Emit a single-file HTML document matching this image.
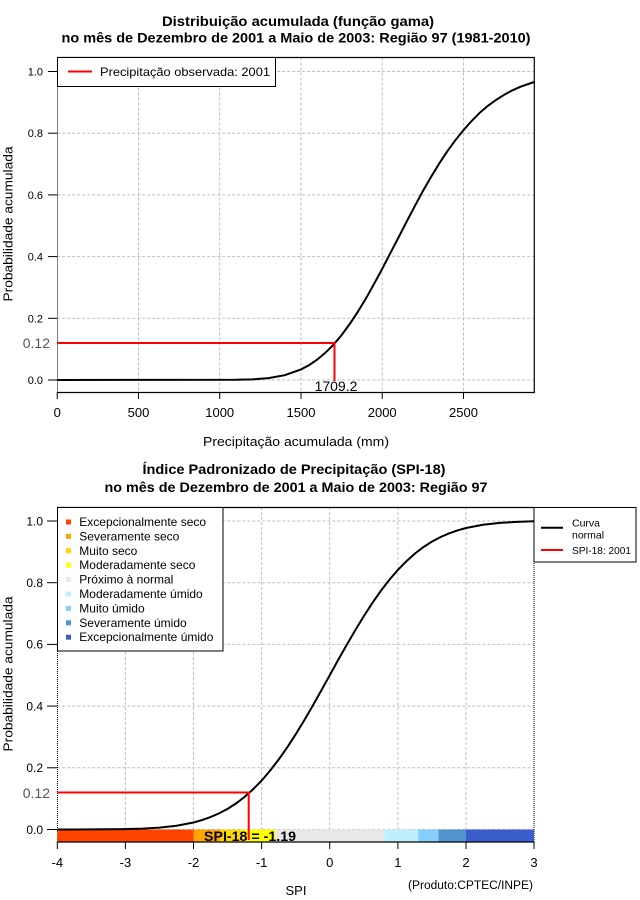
<!DOCTYPE html>
<html><head><meta charset="utf-8"><style>html,body{margin:0;padding:0;background:#fff;}svg{display:block}</style></head>
<body>
<svg width="640" height="900" viewBox="0 0 640 900" xmlns="http://www.w3.org/2000/svg" font-family="Liberation Sans, Arial, sans-serif">
<rect width="640" height="900" fill="#fff"/>

<!-- ===== TOP CHART ===== -->
<text x="298" y="26" font-size="14" font-weight="bold" text-anchor="middle" textLength="272" lengthAdjust="spacingAndGlyphs">Distribuição acumulada (função gama)</text>
<text x="296" y="42.5" font-size="14" font-weight="bold" text-anchor="middle" textLength="469" lengthAdjust="spacingAndGlyphs">no mês de Dezembro de 2001 a Maio de 2003: Região 97 (1981-2010)</text>

<!-- grid -->
<g stroke="#bebebe" stroke-width="1" stroke-dasharray="3 2" fill="none">
<line x1="138.5" y1="57.5" x2="138.5" y2="392.5"/>
<line x1="219.7" y1="57.5" x2="219.7" y2="392.5"/>
<line x1="301" y1="57.5" x2="301" y2="392.5"/>
<line x1="382.2" y1="57.5" x2="382.2" y2="392.5"/>
<line x1="463.5" y1="57.5" x2="463.5" y2="392.5"/>
<line x1="57.2" y1="380" x2="534.3" y2="380"/>
<line x1="57.2" y1="318.3" x2="534.3" y2="318.3"/>
<line x1="57.2" y1="256.6" x2="534.3" y2="256.6"/>
<line x1="57.2" y1="194.9" x2="534.3" y2="194.9"/>
<line x1="57.2" y1="133.2" x2="534.3" y2="133.2"/>
<line x1="57.2" y1="71.5" x2="534.3" y2="71.5"/>
</g>
<line x1="57.5" y1="57.5" x2="57.5" y2="392.5" stroke="#000" stroke-width="1" stroke-dasharray="1 1"/>
<!-- frame -->
<polyline points="57.2,57.5 534.3,57.5 534.3,392.5 57.2,392.5" fill="none" stroke="#000" stroke-width="1.2"/>

<!-- curve -->
<path d="M57.2,380 L236,379.8 L252.2,379.4 L268.5,378.1 L284.7,375.2 L301,369.4 L309.1,365.1 L317.2,359.6 L325.3,352.8 L333.5,344.7 L341.6,335.1 L349.7,324 L357.8,311.8 L366,298.4 L374.1,283.8 L382.2,268.9 L390.3,253.2 L398.5,237.5 L406.6,221.7 L414.7,206.3 L422.8,191.2 L431,177 L439.1,163.7 L447.2,151.4 L455.3,140.3 L463.5,130.1 L471.6,121 L479.7,112.8 L487.8,105.9 L496,100 L504.1,94.8 L512.2,90.4 L520.3,86.8 L534.1,82" fill="none" stroke="#000" stroke-width="2"/>

<!-- red lines -->
<line x1="57.2" y1="343" x2="334.5" y2="343" stroke="#ff0000" stroke-width="2"/>
<line x1="334.5" y1="342" x2="334.5" y2="381" stroke="#ff0000" stroke-width="2"/>
<text x="336" y="391" font-size="14" text-anchor="middle" fill="#000">1709.2</text>

<!-- y axis -->
<g stroke="#000" stroke-width="1">
<line x1="48" y1="380" x2="57" y2="380"/>
<line x1="48" y1="318.3" x2="57" y2="318.3"/>
<line x1="48" y1="256.6" x2="57" y2="256.6"/>
<line x1="48" y1="194.9" x2="57" y2="194.9"/>
<line x1="48" y1="133.2" x2="57" y2="133.2"/>
<line x1="48" y1="71.5" x2="57" y2="71.5"/>
</g>
<g font-size="11" text-anchor="end" fill="#000">
<text x="43" y="384">0.0</text>
<text x="43" y="322.3">0.2</text>
<text x="43" y="260.6">0.4</text>
<text x="43" y="198.9">0.6</text>
<text x="43" y="137.2">0.8</text>
<text x="43" y="75.5">1.0</text>
</g>
<text x="50" y="348" font-size="14" text-anchor="end" fill="#555">0.12</text>
<text transform="translate(12.5,224) rotate(-90)" font-size="13" text-anchor="middle" textLength="155" lengthAdjust="spacingAndGlyphs">Probabilidade acumulada</text>

<!-- x axis -->
<g stroke="#000" stroke-width="1">
<line x1="57.2" y1="392.5" x2="57.2" y2="399"/>
<line x1="138.5" y1="392.5" x2="138.5" y2="399"/>
<line x1="219.7" y1="392.5" x2="219.7" y2="399"/>
<line x1="301" y1="392.5" x2="301" y2="399"/>
<line x1="382.2" y1="392.5" x2="382.2" y2="399"/>
<line x1="463.5" y1="392.5" x2="463.5" y2="399"/>
</g>
<g font-size="13" text-anchor="middle" fill="#000">
<text x="57.2" y="417">0</text>
<text x="138.5" y="417">500</text>
<text x="219.7" y="417">1000</text>
<text x="301" y="417">1500</text>
<text x="382.2" y="417">2000</text>
<text x="463.5" y="417">2500</text>
</g>
<text x="296" y="446" font-size="13" text-anchor="middle" textLength="186" lengthAdjust="spacingAndGlyphs">Precipitação acumulada (mm)</text>

<!-- legend -->
<rect x="57.5" y="57.5" width="218" height="29" fill="#fff" stroke="#000" stroke-width="1"/>
<line x1="68" y1="71.5" x2="92" y2="71.5" stroke="#ff0000" stroke-width="2"/>
<text x="100" y="76" font-size="12" textLength="170" lengthAdjust="spacingAndGlyphs">Precipitação observada: 2001</text>

<!-- ===== BOTTOM CHART ===== -->
<text x="294" y="474" font-size="14" font-weight="bold" text-anchor="middle" textLength="303" lengthAdjust="spacingAndGlyphs">Índice Padronizado de Precipitação (SPI-18)</text>
<text x="296" y="492" font-size="14" font-weight="bold" text-anchor="middle" textLength="383" lengthAdjust="spacingAndGlyphs">no mês de Dezembro de 2001 a Maio de 2003: Região 97</text>

<g stroke="#bebebe" stroke-width="1" stroke-dasharray="3 2" fill="none">
<line x1="125.4" y1="507" x2="125.4" y2="830"/>
<line x1="193.5" y1="507" x2="193.5" y2="830"/>
<line x1="261.6" y1="507" x2="261.6" y2="830"/>
<line x1="329.7" y1="507" x2="329.7" y2="830"/>
<line x1="397.9" y1="507" x2="397.9" y2="830"/>
<line x1="466" y1="507" x2="466" y2="830"/>
<line x1="57.3" y1="829.5" x2="534" y2="829.5"/>
<line x1="57.3" y1="767.8" x2="534" y2="767.8"/>
<line x1="57.3" y1="706.1" x2="534" y2="706.1"/>
<line x1="57.3" y1="644.4" x2="534" y2="644.4"/>
<line x1="57.3" y1="582.7" x2="534" y2="582.7"/>
<line x1="57.3" y1="521" x2="534" y2="521"/>
</g>
<line x1="57.5" y1="507" x2="57.5" y2="842" stroke="#000" stroke-width="1" stroke-dasharray="1 1"/>
<line x1="534" y1="507" x2="534" y2="842" stroke="#000" stroke-width="1" stroke-dasharray="1 1"/>
<line x1="57.3" y1="507.5" x2="534" y2="507.5" stroke="#000" stroke-width="1.2"/>

<!-- color bar -->
<rect x="57.3" y="829.5" width="136.2" height="12.5" fill="#ff4500"/>
<rect x="193.5" y="829.5" width="27.2" height="12.5" fill="#ffa500"/>
<rect x="220.7" y="829.5" width="20.5" height="12.5" fill="#ffd700"/>
<rect x="241.2" y="829.5" width="34" height="12.5" fill="#ffff00"/>
<rect x="275.2" y="829.5" width="109" height="12.5" fill="#e8e8e8"/>
<rect x="384.2" y="829.5" width="34" height="12.5" fill="#bfefff"/>
<rect x="418.2" y="829.5" width="20.4" height="12.5" fill="#87cefa"/>
<rect x="438.6" y="829.5" width="27.4" height="12.5" fill="#4f94cd"/>
<rect x="466" y="829.5" width="68" height="12.5" fill="#3a5fcd"/>

<!-- curve -->
<path d="M57.3,829.5 L74.3,829.5 L91.4,829.4 L108.4,829.3 L125.4,829.1 L142.5,828.6 L159.5,827.6 L176.5,825.7 L193.5,822.5 L202,820.1 L210.5,817.1 L219,813.4 L227.6,808.9 L236.1,803.4 L244.6,796.9 L253.1,789.3 L261.6,780.6 L270.1,770.6 L278.6,759.6 L287.2,747.4 L295.7,734.3 L304.2,720.4 L312.7,705.7 L321.2,690.6 L329.7,675.3 L338.2,659.9 L346.8,644.8 L355.3,630.1 L363.8,616.2 L372.3,603.1 L380.8,590.9 L389.3,579.9 L397.9,569.9 L406.4,561.2 L414.9,553.6 L423.4,547.1 L431.9,541.6 L440.4,537.1 L448.9,533.4 L457.4,530.4 L466,528 L483,524.8 L500,522.9 L517,521.9 L534,521.3" fill="none" stroke="#000" stroke-width="2"/>

<!-- red lines -->
<line x1="57.3" y1="792.5" x2="248.7" y2="792.5" stroke="#ff0000" stroke-width="2"/>
<line x1="248.7" y1="791.5" x2="248.7" y2="840" stroke="#ff0000" stroke-width="2"/>
<text x="250" y="841" font-size="14" font-weight="bold" text-anchor="middle" textLength="92" lengthAdjust="spacingAndGlyphs">SPI-18 = -1.19</text>

<!-- x axis -->
<line x1="57.3" y1="842" x2="534" y2="842" stroke="#000" stroke-width="1.2"/>
<g stroke="#000" stroke-width="1">
<line x1="57.3" y1="842" x2="57.3" y2="849"/>
<line x1="125.4" y1="842" x2="125.4" y2="849"/>
<line x1="193.5" y1="842" x2="193.5" y2="849"/>
<line x1="261.6" y1="842" x2="261.6" y2="849"/>
<line x1="329.7" y1="842" x2="329.7" y2="849"/>
<line x1="397.9" y1="842" x2="397.9" y2="849"/>
<line x1="466" y1="842" x2="466" y2="849"/>
<line x1="534" y1="842" x2="534" y2="849"/>
</g>
<g font-size="13" text-anchor="middle" fill="#000">
<text x="57.3" y="867">-4</text>
<text x="125.4" y="867">-3</text>
<text x="193.5" y="867">-2</text>
<text x="261.6" y="867">-1</text>
<text x="329.7" y="867">0</text>
<text x="397.9" y="867">1</text>
<text x="466" y="867">2</text>
<text x="534" y="867">3</text>
</g>
<text x="296" y="895" font-size="13" text-anchor="middle">SPI</text>
<text x="533" y="889" font-size="11.5" text-anchor="end" textLength="125" lengthAdjust="spacingAndGlyphs">(Produto:CPTEC/INPE)</text>

<!-- y axis -->
<g stroke="#000" stroke-width="1">
<line x1="47" y1="829.5" x2="57" y2="829.5"/>
<line x1="47" y1="767.8" x2="57" y2="767.8"/>
<line x1="47" y1="706.1" x2="57" y2="706.1"/>
<line x1="47" y1="644.4" x2="57" y2="644.4"/>
<line x1="47" y1="582.7" x2="57" y2="582.7"/>
<line x1="47" y1="521" x2="57" y2="521"/>
</g>
<g font-size="12" text-anchor="end" fill="#000">
<text x="43" y="833.8">0.0</text>
<text x="43" y="772.1">0.2</text>
<text x="43" y="710.4">0.4</text>
<text x="43" y="648.7">0.6</text>
<text x="43" y="587">0.8</text>
<text x="43" y="525.3">1.0</text>
</g>
<text x="50" y="798" font-size="14" text-anchor="end" fill="#555">0.12</text>
<text transform="translate(12.5,674) rotate(-90)" font-size="13" text-anchor="middle" textLength="155" lengthAdjust="spacingAndGlyphs">Probabilidade acumulada</text>

<!-- left legend -->
<rect x="57.5" y="507.5" width="165.5" height="143.5" fill="#fff" stroke="#000" stroke-width="1"/>
<rect x="66" y="519.5" width="5" height="5" fill="#ff4500"/>
<rect x="66" y="533.9" width="5" height="5" fill="#ffa500"/>
<rect x="66" y="548.3" width="5" height="5" fill="#ffd700"/>
<rect x="66" y="562.7" width="5" height="5" fill="#ffff00"/>
<rect x="66" y="577.1" width="5" height="5" fill="#e8e8e8"/>
<rect x="66" y="591.5" width="5" height="5" fill="#bfefff"/>
<rect x="66" y="605.9" width="5" height="5" fill="#87cefa"/>
<rect x="66" y="620.3" width="5" height="5" fill="#4f94cd"/>
<rect x="66" y="634.7" width="5" height="5" fill="#3a5fcd"/>
<g font-size="12" fill="#000">
<text x="79.3" y="526">Excepcionalmente seco</text>
<text x="79.3" y="540.4">Severamente seco</text>
<text x="79.3" y="554.8">Muito seco</text>
<text x="79.3" y="569.2">Moderadamente seco</text>
<text x="79.3" y="583.6">Próximo à normal</text>
<text x="79.3" y="598">Moderadamente úmido</text>
<text x="79.3" y="612.4">Muito úmido</text>
<text x="79.3" y="626.8">Severamente úmido</text>
<text x="79.3" y="641.2">Excepcionalmente úmido</text>
</g>

<!-- right legend -->
<rect x="534" y="507.5" width="102" height="54.5" fill="#fff" stroke="#000" stroke-width="1"/>
<line x1="541" y1="527.7" x2="563" y2="527.7" stroke="#000" stroke-width="2"/>
<line x1="541" y1="550" x2="563" y2="550" stroke="#ff0000" stroke-width="2"/>
<g font-size="10.5" fill="#000">
<text x="572" y="526.5">Curva</text>
<text x="572" y="538.5">normal</text>
<text x="572" y="554" textLength="59" lengthAdjust="spacingAndGlyphs">SPI-18: 2001</text>
</g>
</svg>
</body></html>
